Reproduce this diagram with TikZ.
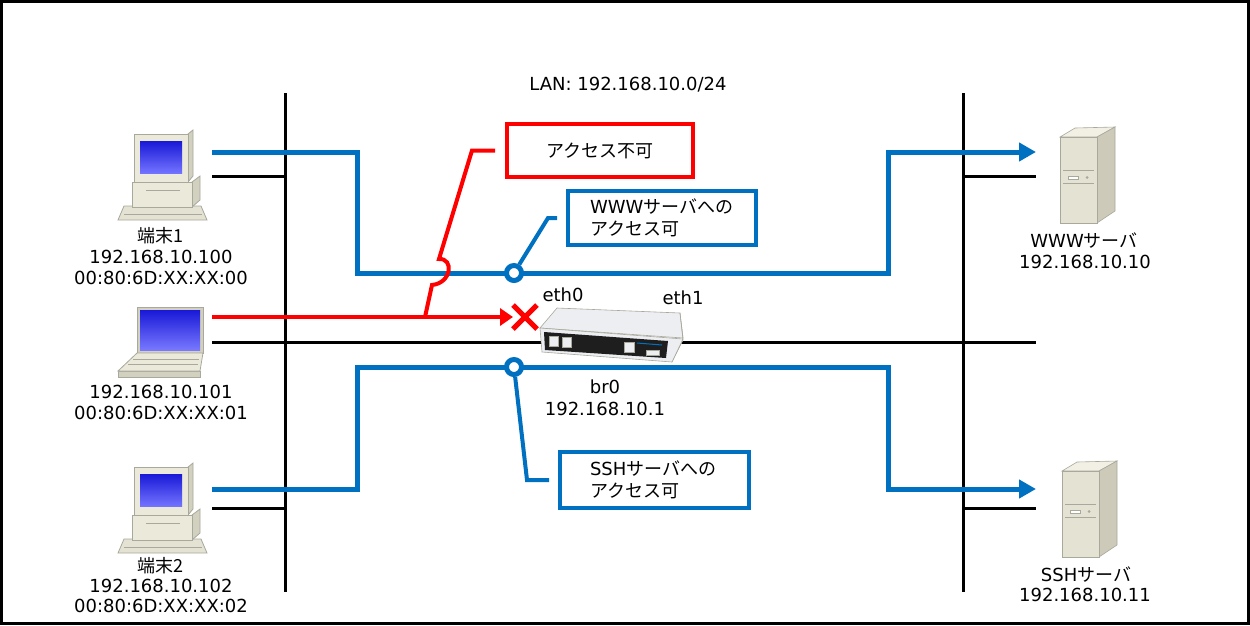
\documentclass[tikz,border=0pt]{standalone}
\usepackage{fontspec}
\setmainfont{DejaVu Sans}
\newfontfamily\jpfont{Noto Sans CJK JP}
\usetikzlibrary{arrows.meta}

\begin{document}
\begin{tikzpicture}[x=1pt,y=-1pt,
  bus/.style={line width=3.0pt, custcol_0_0_0},
  flow/.style={line width=5.0pt, custcol_0_70_c0},
  deny/.style={line width=4.0pt, custcol_ff_0_0},
  lead/.style={line width=4.0pt},
  lbl/.style={inner sep=0, outer sep=0, custcol_0_0_0, font=\fontsize{18pt}{22pt}\selectfont},
  tap/.style={circle, draw=custcol_0_70_c0, fill=white, line width=5.0pt, minimum size=15pt, inner sep=0},
  note/.style={draw, line width=4.0pt, fill=white, inner ysep=0, font=\fontsize{18pt}{22pt}\selectfont}
]
\definecolor{custcol_0_0_0}{RGB}{0, 0, 0}
\definecolor{custcol_0_70_c0}{RGB}{0, 112, 192}
\definecolor{custcol_ff_0_0}{RGB}{255, 0, 0}
\definecolor{custcol_eb_e9_da}{RGB}{235, 233, 218}
\definecolor{custcol_d2_d0_bf}{RGB}{210, 208, 191}
\definecolor{custcol_a8_a8_9c}{RGB}{168, 168, 156}
\definecolor{custcol_e4_e2_d2}{RGB}{228, 226, 210}
\definecolor{custcol_cd_ca_b9}{RGB}{205, 202, 185}
\definecolor{custcol_f2_f0_e4}{RGB}{242, 240, 228}
\definecolor{custcol_ec_ee_f2}{RGB}{236, 238, 242}
\definecolor{custcol_1e_1e_1e}{RGB}{30, 30, 30}
\def\desktopicon#1{%
\begin{scope}[shift={#1}, draw=custcol_a8_a8_9c, line width=0.8pt]
\filldraw [fill=custcol_e4_e2_d2] (-14,90) -- (75,90) -- (69,76) -- (-8,76) -- cycle;
\draw (-8,84) -- (70,84);
\filldraw [fill=custcol_d2_d0_bf] (60,52) -- (68,46) -- (68,70) -- (60,77) -- cycle;
\filldraw [fill=custcol_eb_e9_da] (0,52) rectangle (60,77);
\draw (14,60) -- (48,60);
\filldraw [fill=custcol_d2_d0_bf] (56,4) -- (61,0) -- (61,46) -- (56,52) -- cycle;
\filldraw [fill=custcol_eb_e9_da] (2,4) rectangle (56,52);
\shade [top color={rgb,255:red,25;green,25;blue,215}, bottom color={rgb,255:red,115;green,115;blue,255}] (8,11) rectangle (50,43);
\end{scope}}
\def\laptopicon#1{%
\begin{scope}[shift={#1}, draw=custcol_a8_a8_9c, line width=0.8pt]
\filldraw [fill=custcol_d2_d0_bf] (0,0) rectangle (66,46);
\shade [top color={rgb,255:red,25;green,25;blue,215}, bottom color={rgb,255:red,120;green,120;blue,255}] (3,3) rectangle (63,43);
\filldraw [fill=custcol_d2_d0_bf] (-19,64) -- (63,64) -- (63,70) -- (-19,70) -- cycle;
\filldraw [fill=custcol_eb_e9_da] (0,46) -- (66,46) -- (63,64) -- (-19,64) -- cycle;
\draw (-4,52) -- (62,52);
\draw (-9,57) -- (61,57);
\end{scope}}
\def\servericon#1{%
\begin{scope}[shift={#1}, draw=custcol_a8_a8_9c, line width=0.6pt]
\filldraw [fill=custcol_f2_f0_e4] (0,10) -- (15,1) -- (55,0) -- (37,10) -- cycle;
\filldraw [fill=custcol_cd_ca_b9] (37,10) -- (55,0) -- (55,84) -- (37,96) -- cycle;
\filldraw [fill=custcol_e4_e2_d2] (0,10) rectangle (37,96);
\draw (3,43) -- (34,43);
\draw (3,56) -- (34,56);
\filldraw [fill=white] (8,49) rectangle (18,52);
\fill [custcol_a8_a8_9c] (27,50.5) circle (1.5);
\end{scope}}
\useasboundingbox (0,0) rectangle (1250,625);
\draw [line width=3.0pt, custcol_0_0_0] (1.5,1.5) rectangle (1248.5,623.5);
% icons
\desktopicon{(132,130)}
\laptopicon{(137,307)}
\desktopicon{(132,463)}
\servericon{(1060,127)}
\servericon{(1062,461)}
% link ends
\coordinate (pc1 out) at (212,152);
\coordinate (pc1 link) at (212,176);
\coordinate (lap out) at (212,317);
\coordinate (lap link) at (212,342);
\coordinate (pc2 out) at (212,489);
\coordinate (pc2 link) at (212,508);
\coordinate (www in) at (1036,152);
\coordinate (www link) at (1036,176);
\coordinate (ssh in) at (1036,489);
\coordinate (ssh link) at (1036,508);
\coordinate (wan end) at (1036,342);
\coordinate (eth0 in) at (513,317);
\coordinate (block) at (525,317);
\coordinate (tap red) at (425,317);
\coordinate (bus1 top) at (285,93);
\coordinate (bus1 bot) at (285,592);
\coordinate (bus2 top) at (963,93);
\coordinate (bus2 bot) at (963,592);
% wires
\draw [bus] (bus1 top) -- (bus1 bot);
\draw [bus] (bus2 top) -- (bus2 bot);
\draw [bus] (pc1 link) -- (pc1 link -| bus1 top);
\draw [bus] (pc2 link) -- (pc2 link -| bus1 top);
\draw [bus] (www link -| bus2 top) -- (www link);
\draw [bus] (ssh link -| bus2 top) -- (ssh link);
\draw [bus] (lap link) -- (wan end);
% router
\filldraw [fill=custcol_ec_ee_f2, draw=custcol_a8_a8_9c, line width=0.6pt] (540,328) -- (557,308) -- (680,313) -- (683,338) -- cycle;
\filldraw [fill=custcol_cd_ca_b9, draw=custcol_a8_a8_9c, line width=0.6pt] (683,338) -- (680,313) -- (683,340) -- (672,362) -- cycle;
\filldraw [fill=custcol_ec_ee_f2, draw=custcol_a8_a8_9c, line width=0.6pt] (540,328) -- (683,339) -- (672,362) -- (542,352) -- cycle;
\fill [custcol_1e_1e_1e] (544,332) -- (668,341) -- (666,358) -- (545,350) -- cycle;
\filldraw [fill=custcol_ec_ee_f2, draw=custcol_a8_a8_9c] (549,336) rectangle (558,346);
\filldraw [fill=custcol_ec_ee_f2, draw=custcol_a8_a8_9c] (562,337) rectangle (571,347);
\filldraw [fill=custcol_ec_ee_f2, draw=custcol_a8_a8_9c] (624,342) rectangle (634,352);
\filldraw [fill=custcol_ec_ee_f2, draw=custcol_a8_a8_9c] (646,350) rectangle (659,355);
\draw [custcol_0_70_c0, line width=1.0pt] (637,343) -- (662,345);
% flows
\draw [flow, -{Triangle[length=17pt,width=18pt]}] (pc1 out) -- (357,152) -- (357,273) -- (888,273) -- (888,152) -- (www in);
\draw [flow, -{Triangle[length=17pt,width=18pt]}] (pc2 out) -- (357,489) -- (357,367) -- (888,367) -- (888,489) -- (ssh in);
\draw [deny, -{Triangle[length=13pt,width=17pt]}] (lap out) -- (eth0 in);
\draw [deny, line width=5.0pt] ([shift={(-12,-12)}]block) -- ([shift={(12,12)}]block);
\draw [deny, line width=5.0pt] ([shift={(-12,12)}]block) -- ([shift={(12,-12)}]block);
\node [tap] (tap www) at (514,273) {};
\node [tap] (tap ssh) at (514,367) {};
% notes
\node [note, draw=custcol_ff_0_0, minimum width=186pt, minimum height=53pt] (deny note) at (600,150.5) {\jpfont アクセス不可};
\node [note, draw=custcol_0_70_c0, inner xsep=22pt, text width=144pt, align=left, minimum height=54pt] (www note) at (662,218) {WWW{\jpfont サーバへの}\\{\jpfont アクセス可}};
\node [note, draw=custcol_0_70_c0, inner xsep=30pt, text width=129pt, align=left, minimum height=56pt] (ssh note) at (654.5,480) {SSH{\jpfont サーバへの}\\{\jpfont アクセス可}};
\draw [deny] (tap red) -- (432,285) .. controls (452,283) and (454,258) .. (439,259) -- (472,150.5) -- ([xshift=-10pt]deny note.west);
\draw [lead, custcol_0_70_c0] (tap www) -- (548,218) -- ([xshift=-9pt]www note.west);
\draw [lead, custcol_0_70_c0] (tap ssh) -- (527,480) -- ([xshift=-9pt]ssh note.west);
% labels
\node [lbl] (lan) at (628,85) {LAN: 192.168.10.0/24};
\node [lbl] (pc1 name) at (160,236) {\jpfont 端末1};
\node [lbl] (pc1 ip) at (161,257) {192.168.10.100};
\node [lbl] (pc1 mac) at (161,278) {00:80:6D:XX:XX:00};
\node [lbl] (lap ip) at (161,392) {192.168.10.101};
\node [lbl] (lap mac) at (161,413) {00:80:6D:XX:XX:01};
\node [lbl] (pc2 name) at (160,566) {\jpfont 端末2};
\node [lbl] (pc2 ip) at (161,586) {192.168.10.102};
\node [lbl] (pc2 mac) at (161,606) {00:80:6D:XX:XX:02};
\node [lbl] (www name) at (1084,241) {WWW{\jpfont サーバ}};
\node [lbl] (www ip) at (1085,262) {192.168.10.10};
\node [lbl] (ssh name) at (1086,575) {SSH{\jpfont サーバ}};
\node [lbl] (ssh ip) at (1085,595) {192.168.10.11};
\node [lbl] (eth0) at (563,295) {eth0};
\node [lbl] (eth1) at (683,298) {eth1};
\node [lbl] (br0) at (605,387) {br0};
\node [lbl] (br0 ip) at (605,409) {192.168.10.1};
\end{tikzpicture}
\end{document}
